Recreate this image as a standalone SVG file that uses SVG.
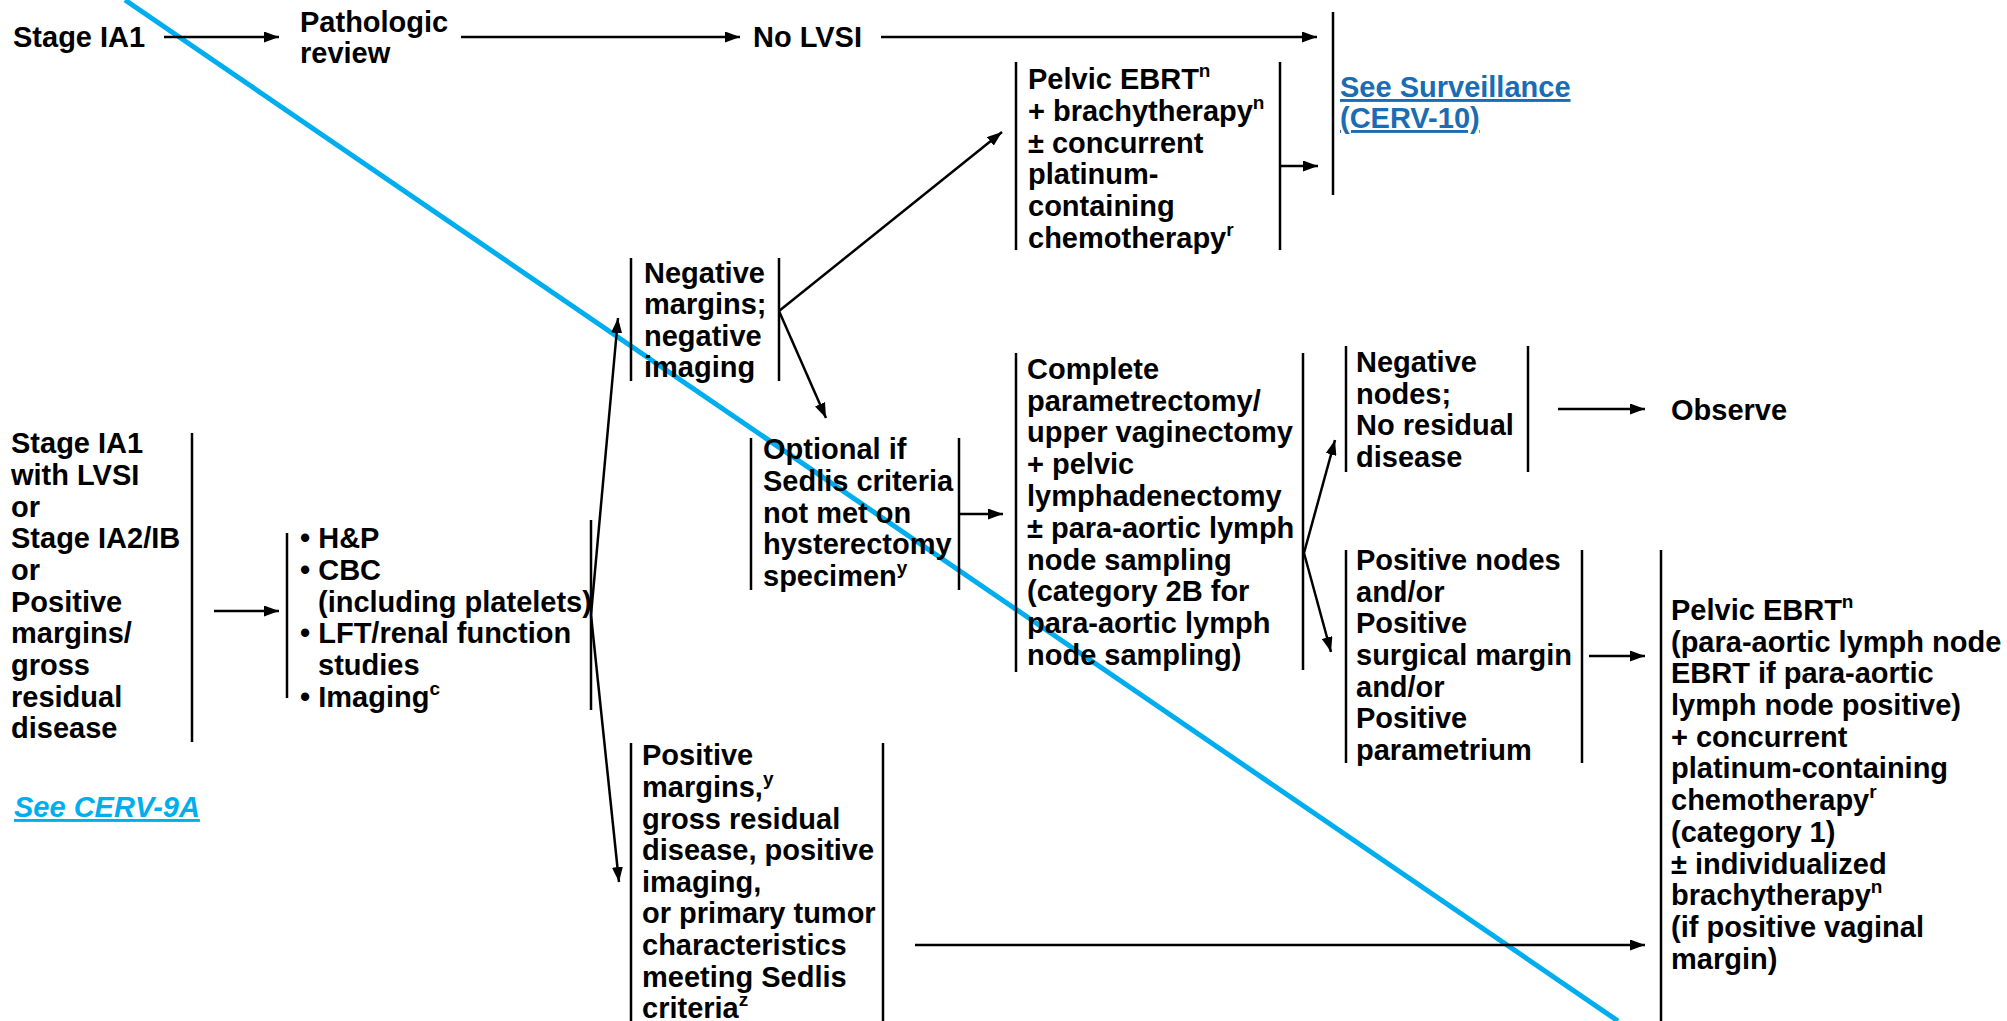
<svg xmlns="http://www.w3.org/2000/svg" width="2007" height="1021" viewBox="0 0 2007 1021">
<style>
.t{font-family:"Liberation Sans",Arial,Helvetica,sans-serif;font-weight:bold;font-size:29px;fill:#000}
.sup{font-size:19px}
.bar{stroke:#000;stroke-width:2.5;fill:none}
.conn{stroke:#000;stroke-width:2.5;fill:none;marker-end:url(#ah)}
.link1{fill:#1a6cb3;text-decoration:underline}
.link2{fill:#00aeef;font-style:italic;text-decoration:underline}
.strike{stroke:#00aeef;stroke-width:5;fill:none}
</style>
<defs>
<marker id="ah" markerUnits="userSpaceOnUse" markerWidth="15" markerHeight="11" refX="15" refY="5.5" orient="auto">
<path d="M0,0 L15,5.5 L0,11 z" fill="#000"/>
</marker>
</defs>
<rect width="2007" height="1021" fill="#fff"/>
<g id="overlay">
<line class="strike" x1="125" y1="0" x2="1618" y2="1021"/>
</g>
<g id="connectors">
<line class="conn" x1="164" y1="37" x2="279" y2="37"/>
<line class="conn" x1="461" y1="37" x2="740" y2="37"/>
<line class="conn" x1="881" y1="37" x2="1317" y2="37"/>
<line class="conn" x1="1280" y1="166" x2="1318" y2="166"/>
<line class="conn" x1="779" y1="311" x2="1002" y2="132"/>
<line class="conn" x1="779" y1="311" x2="826" y2="418"/>
<line class="conn" x1="959" y1="514" x2="1003" y2="514"/>
<line class="conn" x1="1304" y1="553" x2="1335" y2="440"/>
<line class="conn" x1="1304" y1="553" x2="1331" y2="652"/>
<line class="conn" x1="1558" y1="409" x2="1645" y2="409"/>
<line class="conn" x1="1589" y1="656" x2="1645" y2="656"/>
<line class="conn" x1="214" y1="611" x2="279" y2="611"/>
<line class="conn" x1="591" y1="615" x2="618" y2="318"/>
<line class="conn" x1="591" y1="615" x2="619" y2="882"/>
<line class="conn" x1="915" y1="945" x2="1645" y2="945"/>
</g>
<g id="n_stage_ia1">
<text class="t" x="13" y="47">Stage IA1</text>
</g>
<g id="n_patho">
<text class="t"><tspan x="300" y="32">Pathologic</tspan><tspan x="300" y="63">review</tspan></text>
</g>
<g id="n_nolvsi">
<text class="t" x="753" y="47">No LVSI</text>
</g>
<g id="n_surv">
<line class="bar" x1="1333" y1="12" x2="1333" y2="195"/>
<text class="t link1"><tspan x="1340" y="97">See Surveillance</tspan><tspan x="1340" y="128">(CERV-10)</tspan></text>
</g>
<g id="n_pelvic1">
<line class="bar" x1="1016" y1="62" x2="1016" y2="250"/>
<line class="bar" x1="1280" y1="62" x2="1280" y2="250"/>
<text class="t"><tspan x="1028" y="89">Pelvic EBRT</tspan><tspan class="sup" dy="-12">n</tspan><tspan x="1028" y="121">+ brachytherapy</tspan><tspan class="sup" dy="-12">n</tspan><tspan x="1028" y="153">± concurrent</tspan><tspan x="1028" y="184">platinum-</tspan><tspan x="1028" y="216">containing</tspan><tspan x="1028" y="248">chemotherapy</tspan><tspan class="sup" dy="-12">r</tspan></text>
</g>
<g id="n_negmarg">
<line class="bar" x1="631" y1="258" x2="631" y2="381"/>
<line class="bar" x1="779" y1="258" x2="779" y2="381"/>
<text class="t"><tspan x="644" y="283">Negative</tspan><tspan x="644" y="314">margins;</tspan><tspan x="644" y="346">negative</tspan><tspan x="644" y="377">imaging</tspan></text>
</g>
<g id="n_optional">
<line class="bar" x1="751" y1="438" x2="751" y2="590"/>
<line class="bar" x1="959" y1="438" x2="959" y2="590"/>
<text class="t"><tspan x="763" y="459">Optional if</tspan><tspan x="763" y="491">Sedlis criteria</tspan><tspan x="763" y="523">not met on</tspan><tspan x="763" y="554">hysterectomy</tspan><tspan x="763" y="586">specimen</tspan><tspan class="sup" dy="-12">y</tspan></text>
</g>
<g id="n_complete">
<line class="bar" x1="1016" y1="353" x2="1016" y2="672"/>
<line class="bar" x1="1303" y1="353" x2="1303" y2="670"/>
<text class="t"><tspan x="1027" y="379">Complete</tspan><tspan x="1027" y="411">parametrectomy/</tspan><tspan x="1027" y="442">upper vaginectomy</tspan><tspan x="1027" y="474">+ pelvic</tspan><tspan x="1027" y="506">lymphadenectomy</tspan><tspan x="1027" y="538">± para-aortic lymph</tspan><tspan x="1027" y="570">node sampling</tspan><tspan x="1027" y="601">(category 2B for</tspan><tspan x="1027" y="633">para-aortic lymph</tspan><tspan x="1027" y="665">node sampling)</tspan></text>
</g>
<g id="n_negnodes">
<line class="bar" x1="1346" y1="346" x2="1346" y2="472"/>
<line class="bar" x1="1528" y1="346" x2="1528" y2="472"/>
<text class="t"><tspan x="1356" y="372">Negative</tspan><tspan x="1356" y="404">nodes;</tspan><tspan x="1356" y="435">No residual</tspan><tspan x="1356" y="467">disease</tspan></text>
</g>
<g id="n_observe">
<text class="t" x="1671" y="420">Observe</text>
</g>
<g id="n_posnodes">
<line class="bar" x1="1346" y1="550" x2="1346" y2="763"/>
<line class="bar" x1="1582" y1="550" x2="1582" y2="763"/>
<text class="t"><tspan x="1356" y="570">Positive nodes</tspan><tspan x="1356" y="602">and/or</tspan><tspan x="1356" y="633">Positive</tspan><tspan x="1356" y="665">surgical margin</tspan><tspan x="1356" y="697">and/or</tspan><tspan x="1356" y="728">Positive</tspan><tspan x="1356" y="760">parametrium</tspan></text>
</g>
<g id="n_final">
<line class="bar" x1="1661" y1="550" x2="1661" y2="1021"/>
<text class="t"><tspan x="1671" y="620">Pelvic EBRT</tspan><tspan class="sup" dy="-12">n</tspan><tspan x="1671" y="652">(para-aortic lymph node</tspan><tspan x="1671" y="683">EBRT if para-aortic</tspan><tspan x="1671" y="715">lymph node positive)</tspan><tspan x="1671" y="747">+ concurrent</tspan><tspan x="1671" y="778">platinum-containing</tspan><tspan x="1671" y="810">chemotherapy</tspan><tspan class="sup" dy="-12">r</tspan><tspan x="1671" y="842">(category 1)</tspan><tspan x="1671" y="874">± individualized</tspan><tspan x="1671" y="905">brachytherapy</tspan><tspan class="sup" dy="-12">n</tspan><tspan x="1671" y="937">(if positive vaginal</tspan><tspan x="1671" y="969">margin)</tspan></text>
</g>
<g id="n_stage_box">
<line class="bar" x1="192" y1="433" x2="192" y2="742"/>
<text class="t"><tspan x="11" y="453">Stage IA1</tspan><tspan x="11" y="485">with LVSI</tspan><tspan x="11" y="517">or</tspan><tspan x="11" y="548">Stage IA2/IB</tspan><tspan x="11" y="580">or</tspan><tspan x="11" y="612">Positive</tspan><tspan x="11" y="643">margins/</tspan><tspan x="11" y="675">gross</tspan><tspan x="11" y="707">residual</tspan><tspan x="11" y="738">disease</tspan></text>
</g>
<g id="n_workup">
<line class="bar" x1="287" y1="533" x2="287" y2="698"/>
<line class="bar" x1="591" y1="520" x2="591" y2="710"/>
<text class="t"><tspan x="300" y="548">• H&amp;P</tspan><tspan x="300" y="580">• CBC</tspan><tspan x="318" y="612">(including platelets)</tspan><tspan x="300" y="643">• LFT/renal function</tspan><tspan x="318" y="675">studies</tspan><tspan x="300" y="707">• Imaging</tspan><tspan class="sup" dy="-12">c</tspan></text>
</g>
<g id="n_posmarg">
<line class="bar" x1="631" y1="743" x2="631" y2="1021"/>
<line class="bar" x1="883" y1="743" x2="883" y2="1021"/>
<text class="t"><tspan x="642" y="765">Positive</tspan><tspan x="642" y="797">margins,</tspan><tspan class="sup" dy="-12">y</tspan><tspan x="642" y="829">gross residual</tspan><tspan x="642" y="860">disease, positive</tspan><tspan x="642" y="892">imaging,</tspan><tspan x="642" y="923">or primary tumor</tspan><tspan x="642" y="955">characteristics</tspan><tspan x="642" y="987">meeting Sedlis</tspan><tspan x="642" y="1018">criteria</tspan><tspan class="sup" dy="-12">z</tspan></text>
</g>
<g id="n_cerv9a">
<text class="t link2" x="14" y="817">See CERV-9A</text>
</g>
</svg>
